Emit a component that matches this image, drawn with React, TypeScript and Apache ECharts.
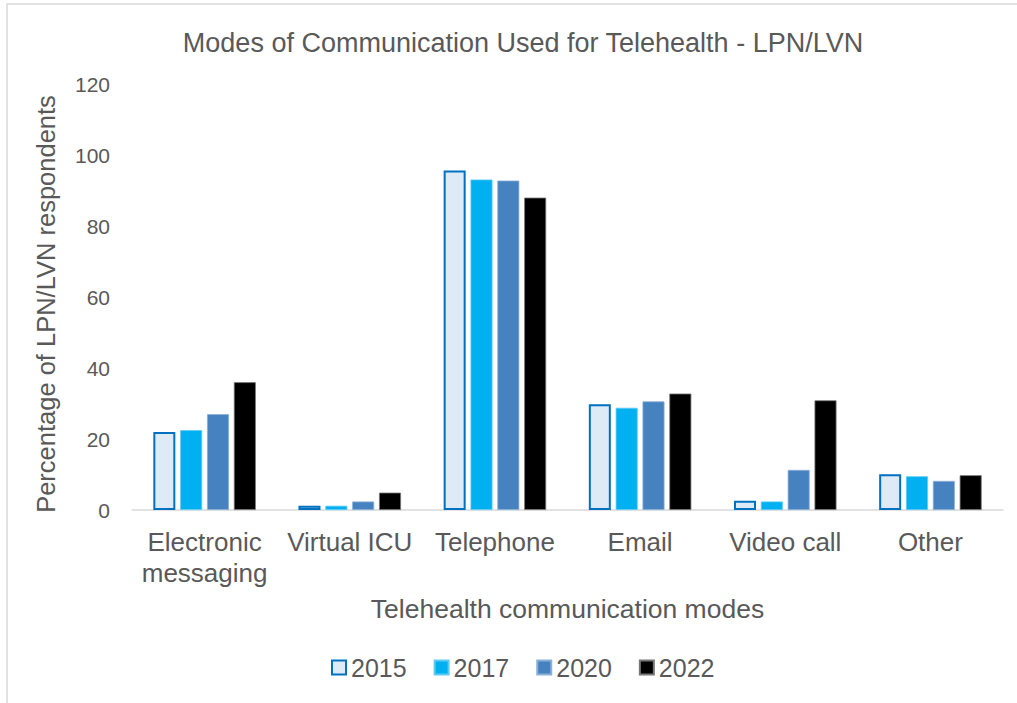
import React, { useEffect, useRef } from "react";
import * as echarts from "echarts";

const categories = ["Electronic\nmessaging", "Virtual ICU", "Telephone", "Email", "Video call", "Other"];
const years = ["2015", "2017", "2020", "2022"];
const values2015 = [22.0, 1.2, 95.6, 29.8, 2.6, 10.1];
const values2017 = [22.5, 1.2, 93.1, 28.8, 2.4, 9.5];
const values2020 = [27.0, 2.4, 92.8, 30.6, 11.3, 8.2];
const values2022 = [36.0, 4.9, 88.0, 32.8, 30.9, 9.8];
const yTicks = [0, 20, 40, 60, 80, 100, 120];

const FONT = "'Liberation Sans', Arial, sans-serif";
const TEXT = "#595959";

export default function App() {
  const ref = useRef<HTMLDivElement>(null);
  useEffect(() => {
    if (!ref.current) return;
    const chart = echarts.init(ref.current, undefined, { renderer: "svg" });
    const seriesData = [values2015, values2017, values2020, values2022];
    const styles = [
      { color: "#DEEBF7", borderColor: "#0070C0", borderWidth: 2 },
      { color: "#00B0F0", borderColor: "#5FCBF5", borderWidth: 0.8 },
      { color: "#4682C0", borderColor: "#8AB0D8", borderWidth: 0.8 },
      { color: "#000000", borderColor: "#777777", borderWidth: 0.8 },
    ];
    chart.setOption({
      animation: false,
      backgroundColor: "#ffffff",
      textStyle: { fontFamily: FONT },
      title: {
        text: "Modes of Communication Used for Telehealth - LPN/LVN",
        left: 518,
        top: 24,
        textAlign: "center",
        textStyle: { fontFamily: FONT, fontSize: 27, fontWeight: "normal", color: TEXT },
      },
      graphic: [
        {
          type: "rect",
          shape: { x: 7, y: 4, width: 1030, height: 720 },
          style: { fill: "none", stroke: "#d9d9d9", lineWidth: 1.5 },
          silent: true,
        },
      ],
      legend: {
        data: years,
        left: 326,
        top: 650,
        itemWidth: 14,
        itemHeight: 14,
        itemGap: 27,
        icon: "rect",
        textStyle: { fontFamily: FONT, fontSize: 25, color: TEXT },
      },
      grid: { left: 132, right: 14, top: 84, height: 426, containLabel: false },
      xAxis: {
        type: "category",
        data: categories,
        name: "Telehealth communication modes",
        nameLocation: "middle",
        nameGap: 85,
        nameTextStyle: { fontFamily: FONT, fontSize: 26.5, color: TEXT },
        axisLine: { lineStyle: { color: "#d9d9d9", width: 1.5 } },
        axisTick: { show: false },
        axisLabel: { fontFamily: FONT, fontSize: 26, color: TEXT, margin: 16, lineHeight: 31, interval: 0 },
      },
      yAxis: {
        type: "value",
        min: 0,
        max: 120,
        interval: 20,
        name: "Percentage of LPN/LVN respondents",
        nameLocation: "middle",
        nameGap: 73,
        nameTextStyle: { fontFamily: FONT, fontSize: 25.5, color: TEXT, padding: [0, 14, 0, 0] },
        axisLine: { show: false },
        axisTick: { show: false },
        splitLine: { show: false },
        axisLabel: {
          fontFamily: FONT,
          fontSize: 21,
          color: TEXT,
          margin: 22,
          formatter: (v: number) => (yTicks.includes(v) ? String(v) : ""),
        },
      },
      series: years.map((y, i) => ({
        name: y,
        type: "bar",
        data: seriesData[i],
        barWidth: 22,
        barGap: "22%",
        itemStyle: styles[i],
      })),
    });
    return () => chart.dispose();
  }, []);
  return (
    <div
      ref={ref}
      style={{ position: "absolute", left: 0, top: 0, width: 1017, height: 703 }}
    />
  );
}
